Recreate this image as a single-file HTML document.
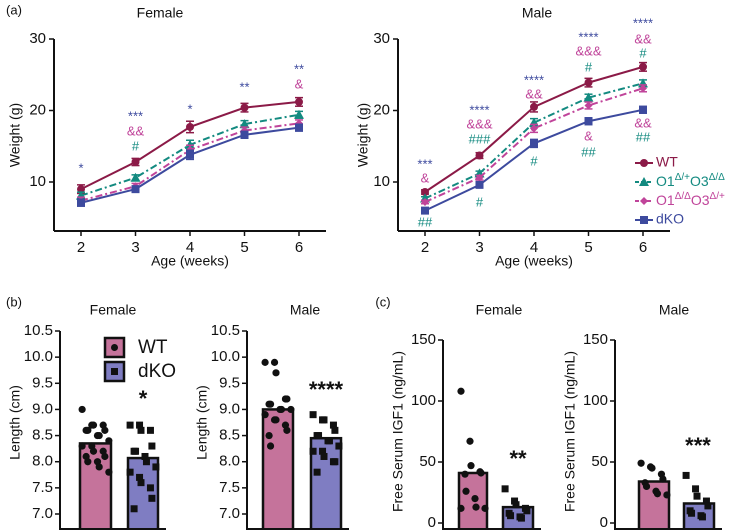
<!DOCTYPE html>
<html><head><meta charset="utf-8"><style>
body{margin:0;background:#fff;}
svg{display:block;font-family:"Liberation Sans",sans-serif;}
</style></head><body>
<svg id="fig" width="732" height="530" viewBox="0 0 732 530"></svg>
<script>
// ---- data: panel (a) weights ----
const ages=[2,3,4,5,6];
const femWT=[9.0,12.8,17.7,20.4,21.2];
const femO1=[8.1,10.6,15.2,18.1,19.4];
const femO3=[7.4,9.4,14.5,17.2,18.2];
const femKO=[7.1,9.0,13.8,16.6,17.6];
const femSem=[0.6,0.5,0.8,0.6,0.6];
const maleWT=[8.6,13.7,20.5,23.9,26.1];
const maleO1=[7.7,11.2,18.3,21.8,23.8];
const maleO3=[7.2,10.6,17.5,20.7,23.1];
const maleKO=[6.0,9.6,15.4,18.5,20.1];
const maleSem=[0.3,0.4,0.7,0.6,0.6];
const weightTicks=[10,20,30];
// ---- data: panel (b) length ----
const lenTicks=[7.0,7.5,8.0,8.5,9.0,9.5,10.0,10.5];
const lenMeans=[8.35,8.07,9.0,8.45];
const lenFemWT=[9.0,8.7,8.7,8.7,8.6,8.6,8.6,8.5,8.5,8.4,8.3,8.3,8.2,8.2,8.1,8.1,8.0,8.0,7.9,7.8];
const lenFemKO=[8.7,8.7,8.6,8.6,8.3,8.2,8.2,8.1,8.0,7.9,7.8,7.7,7.6,7.5,7.3,7.1];
const lenMaleWT=[9.9,9.9,9.7,9.2,9.2,9.1,9.1,9.0,9.0,9.0,8.9,8.8,8.8,8.7,8.6,8.5,8.3];
const lenMaleKO=[8.9,8.8,8.8,8.7,8.6,8.5,8.5,8.4,8.4,8.3,8.2,8.2,8.1,8.0,8.0,7.8];
// ---- data: panel (c) IGF1 ----
const igfTicks=[0,50,100,150];
const igfMeans=[41,13,34,16];
const igfFemWT=[108,67,47,42,41,40,26,20,13,12,12];
const igfFemKO=[28,18,15,12,10,8,6,5,4];
const igfMaleWT=[49,46,45,40,36,33,30,26,24,23];
const igfMaleKO=[39,28,22,18,14,10,8,6,5];

const NS="http://www.w3.org/2000/svg";
const svg=document.getElementById('fig');
function el(tag,attrs,parent,txt){const e=document.createElementNS(NS,tag);for(const k in attrs)e.setAttribute(k,attrs[k]);if(txt!==undefined)e.textContent=txt;(parent||svg).appendChild(e);return e;}
const C={wt:'#8b1a47',o1:'#138a80',o3:'#c0449a',ko:'#3d4a9e'};

function txt(x,y,s,opts,name){const t=el('text',Object.assign({x:x,y:y,'font-size':14,'text-anchor':'middle','dominant-baseline':'middle',fill:'#111'},opts||{}),svg,s);

return t;}

// ===== Panel A =====
function linePanel(x0,xs,xe,series,sem,prefix){
  const yScale=v=>182-(v-10)*7.15;
  const xScale=a=>xs+(a-2)*(xe-xs)/4;
  const g=el('g',{});
  
  
  el('line',{x1:x0,y1:39,x2:x0,y2:231,stroke:'#111','stroke-width':2},g);
  el('line',{x1:x0,y1:231,x2:xe+27,y2:231,stroke:'#111','stroke-width':2},g);
  weightTicks.forEach(t=>{const y=yScale(t);el('line',{x1:x0-5,y1:y,x2:x0,y2:y,stroke:'#111','stroke-width':1.5},g);
    txt(x0-8,y,String(t),{'text-anchor':'end','font-size':15},'y-tick-label');});
  ages.forEach(a=>{const x=xScale(a);el('line',{x1:x,y1:231,x2:x,y2:236,stroke:'#111','stroke-width':1.5},g);
    txt(x,248,String(a),{'font-size':15},'x-tick-label');});
  series.forEach(s=>{
    const pts=s.v.map((v,i)=>xScale(ages[i])+','+yScale(v)).join(' ');
    const p=el('polyline',{points:pts,fill:'none',stroke:s.c,'stroke-width':2,'stroke-dasharray':s.dash||''},g);
    
    
    s.v.forEach((v,i)=>{const x=xScale(ages[i]),y=yScale(v),e=sem[i]*7.15*(s.n==='wt'?1:0.8);
      el('line',{x1:x,y1:y-e,x2:x,y2:y+e,stroke:s.c,'stroke-width':1.5},g);
      el('line',{x1:x-4,y1:y-e,x2:x+4,y2:y-e,stroke:s.c,'stroke-width':1.5},g);
      el('line',{x1:x-4,y1:y+e,x2:x+4,y2:y+e,stroke:s.c,'stroke-width':1.5},g);
      let m;
      if(s.m==='c')m=el('circle',{cx:x,cy:y,r:4,fill:s.c},g);
      else if(s.m==='t')m=el('polygon',{points:`${x},${y-5} ${x-5},${y+4} ${x+5},${y+4}`,fill:s.c},g);
      else if(s.m==='d')m=el('polygon',{points:`${x},${y-4} ${x-4},${y} ${x},${y+4} ${x+4},${y}`,fill:s.c},g);
      else m=el('rect',{x:x-4,y:y-4,width:8,height:8,fill:s.c},g);
      
      
    });
  });
  return xScale;
}
txt(14,11,'(a)',{'font-size':13},'panel-a-label');
txt(160,14,'Female',{'font-size':14},'female-weight-title');
txt(537,14,'Male',{'font-size':14},'male-weight-title');
txt(16,135,'Weight (g)',{transform:'rotate(-90 16 135)','font-size':14},'y-axis-title');
txt(364,135,'Weight (g)',{transform:'rotate(-90 364 135)','font-size':14},'y-axis-title');
txt(190,262,'Age (weeks)',{'font-size':14},'x-axis-title');
txt(534,262,'Age (weeks)',{'font-size':14},'x-axis-title');
const fx=linePanel(54,81,299,[
 {n:'wt',v:femWT,c:C.wt,m:'c'},{n:'o1',v:femO1,c:C.o1,m:'t',dash:'7 3 2 3'},
 {n:'o3',v:femO3,c:C.o3,m:'d',dash:'7 3 2 3'},{n:'ko',v:femKO,c:C.ko,m:'s'}],femSem,'female');
const mx=linePanel(398,425,643,[
 {n:'wt',v:maleWT,c:C.wt,m:'c'},{n:'o1',v:maleO1,c:C.o1,m:'t',dash:'7 3 2 3'},
 {n:'o3',v:maleO3,c:C.o3,m:'d',dash:'7 3 2 3'},{n:'ko',v:maleKO,c:C.ko,m:'s'}],maleSem,'male');
// annotations
const annF=[[2,169,'*','ko'],[3,117,'***','ko'],[3,132,'&&','o3'],[3,147,'#','o1'],[4,110,'*','ko'],[5,88,'**','ko'],[6,70,'**','ko'],[6,85,'&','o3']];
const annM=[[2,165,'***','ko'],[2,179,'&','o3'],[2,223,'##','o1'],[3,111,'****','ko'],[3,125,'&&&','o3'],[3,140,'###','o1'],[3,203,'#','o1'],
 [4,81,'****','ko'],[4,95,'&&','o3'],[4,162,'#','o1'],[5,38,'****','ko'],[5,52,'&&&','o3'],[5,68,'#','o1'],[5,137,'&','o3'],[5,153,'##','o1'],
 [6,24,'****','ko'],[6,40,'&&','o3'],[6,54,'#','o1'],[6,124,'&&','o3'],[6,138,'##','o1']];
annF.forEach(a=>txt(fx(a[0]),a[1],a[2],{fill:C[a[3]],'font-size':13},'significance-mark'));
annM.forEach(a=>txt(mx(a[0]),a[1],a[2],{fill:C[a[3]],'font-size':13},'significance-mark'));
// legend
const leg=[['WT','wt','c',''],['O1Δ/+O3Δ/Δ','o1','t','4 2'],['O1Δ/ΔO3Δ/+','o3','d','4 2'],['dKO','ko','s','']];
leg.forEach((l,i)=>{const y=163+i*19,x=644,c=C[l[1]];
 const g=el('g',{});
 el('line',{x1:x-9,y1:y,x2:x+9,y2:y,stroke:c,'stroke-width':2,'stroke-dasharray':l[3]},g);
 if(l[2]==='c')el('circle',{cx:x,cy:y,r:4,fill:c},g);
 else if(l[2]==='t')el('polygon',{points:`${x},${y-5} ${x-5},${y+4} ${x+5},${y+4}`,fill:c},g);
 else if(l[2]==='d')el('polygon',{points:`${x},${y-4} ${x-4},${y} ${x},${y+4} ${x+4},${y}`,fill:c},g);
 else el('rect',{x:x-4,y:y-4,width:8,height:8,fill:c},g);
 const t=el('text',{x:656,y:y,'font-size':14,fill:c,'dominant-baseline':'middle'},g);
 if(i===0||i===3)t.textContent=l[0];
 else{const sup=i===1?['Δ/+','Δ/Δ']:['Δ/Δ','Δ/+'];
  el('tspan',{},t,'O1');el('tspan',{dy:-5,'font-size':10},t,sup[0]);el('tspan',{dy:5},t,'O3');el('tspan',{dy:-5,'font-size':10},t,sup[1]);}
});

// ===== bar panels =====
function barPanel(ax,yTop,yBot,vmin,vmax,ticks,fmt,bars,means,pts,label,name){
  const ys=v=>yBot-(v-vmin)*(yBot-yTop)/(vmax-vmin);
  const g=el('g',{});
  el('line',{x1:ax,y1:yTop,x2:ax,y2:530,stroke:'#111','stroke-width':2},g);
  ticks.forEach(t=>{const y=ys(t);el('line',{x1:ax-5,y1:y,x2:ax,y2:y,stroke:'#111','stroke-width':1.5},g);
    txt(ax-7,y,fmt(t),{'text-anchor':'end','font-size':15},'y-tick-label');});
  const fills=['#c5739b','#7f7dc2'];
  bars.forEach((b,i)=>{const y=ys(means[i]);
    const r=el('rect',{x:b[0],y:y,width:b[1]-b[0],height:530-y,fill:fills[i],stroke:'#111','stroke-width':2.5},g);
    
    const cx=(b[0]+b[1])/2,w=(b[1]-b[0])/2-3;
    pts[i].forEach((v,j)=>{const off=((j%5)-2)*w/2.2+((j%2)?2:-2);const py=ys(v);
      let m=i===0?el('circle',{cx:cx+off,cy:py,r:3.6,fill:'#111'},g):el('rect',{x:cx+off-3.5,y:py-3.5,width:7,height:7,fill:'#111'},g);
      });
  });
  el('line',{x1:ax,y1:529,x2:bars[1][1]+8,y2:529,stroke:'#111','stroke-width':2},g);
  txt(ax-44,(yTop+yBot)/2,label,{transform:`rotate(-90 ${ax-44} ${(yTop+yBot)/2})`,'font-size':14},'y-axis-title');
  return ys;
}
txt(14,303,'(b)',{'font-size':13},'panel-b-label');
txt(113,311,'Female',{'font-size':14},'female-length-title');
txt(305,311,'Male',{'font-size':14},'male-length-title');
const f1=v=>v.toFixed(1);
barPanel(60,331,514,7,10.5,lenTicks,f1,[[80,111],[128,158]],lenMeans.slice(0,2),[lenFemWT,lenFemKO],'Length (cm)','female-length-chart');
barPanel(247,331,514,7,10.5,lenTicks,f1,[[263,293],[311,341]],lenMeans.slice(2),[lenMaleWT,lenMaleKO],'Length (cm)','male-length-chart');
txt(143,400,'*',{'font-size':22,'font-weight':'bold'},'significance-mark');
txt(326,391,'****',{'font-size':22,'font-weight':'bold'},'significance-mark');
// length legend
[['WT','#c5739b','c',347],['dKO','#7f7dc2','s',371]].forEach(l=>{
 const g=el('g',{});
 el('rect',{x:105,y:l[3]-9,width:19,height:19,fill:l[1],stroke:'#111','stroke-width':2.5},g);
 if(l[2]==='c')el('circle',{cx:114.5,cy:l[3]+0.5,r:3.5,fill:'#111'},g);else el('rect',{x:111,y:l[3]-3,width:7,height:7,fill:'#111'},g);
 el('text',{x:138,y:l[3]+1,'font-size':19,'dominant-baseline':'middle',fill:'#111'},g,l[0]);
});
txt(383,303,'(c)',{'font-size':13},'panel-c-label');
txt(499,311,'Female',{'font-size':14},'female-igf1-title');
txt(674,311,'Male',{'font-size':14},'male-igf1-title');
const f0=v=>String(v);
barPanel(443,340,523,0,150,igfTicks,f0,[[459,487],[503,533]],igfMeans.slice(0,2),[igfFemWT,igfFemKO],'Free Serum IGF1 (ng/mL)','female-igf1-chart');
barPanel(615,340,523,0,150,igfTicks,f0,[[639,669],[684,714]],igfMeans.slice(2),[igfMaleWT,igfMaleKO],'Free Serum IGF1 (ng/mL)','male-igf1-chart');
txt(518,460,'**',{'font-size':22,'font-weight':'bold'},'significance-mark');
txt(698,447,'***',{'font-size':22,'font-weight':'bold'},'significance-mark');
</script>
</body></html>
